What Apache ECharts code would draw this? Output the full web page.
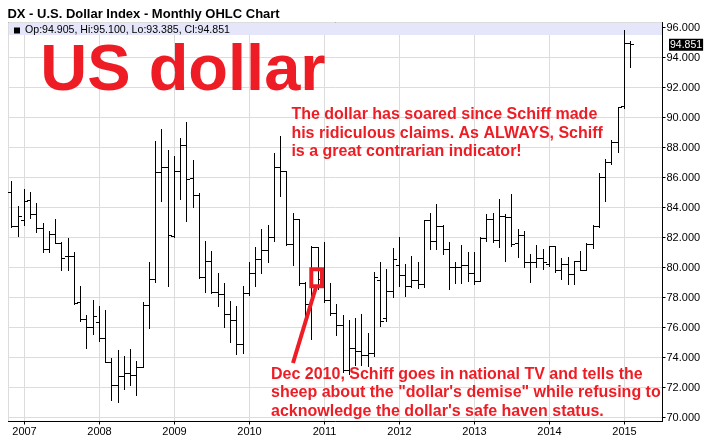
<!DOCTYPE html>
<html><head><meta charset="utf-8">
<script src="https://cdn.jsdelivr.net/npm/echarts@6/dist/echarts.min.js"></script>
<style>html,body{margin:0;padding:0;background:#fff;}#c{width:709px;height:445px;}</style>
</head><body><div id="c"></div>
<script>
const MONTHS = [
'2006-11','2006-12',
'2007-01','2007-02','2007-03','2007-04','2007-05','2007-06','2007-07','2007-08','2007-09','2007-10','2007-11','2007-12',
'2008-01','2008-02','2008-03','2008-04','2008-05','2008-06','2008-07','2008-08','2008-09','2008-10','2008-11','2008-12',
'2009-01','2009-02','2009-03','2009-04','2009-05','2009-06','2009-07','2009-08','2009-09','2009-10','2009-11','2009-12',
'2010-01','2010-02','2010-03','2010-04','2010-05','2010-06','2010-07','2010-08','2010-09','2010-10','2010-11','2010-12',
'2011-01','2011-02','2011-03','2011-04','2011-05','2011-06','2011-07','2011-08','2011-09','2011-10','2011-11','2011-12',
'2012-01','2012-02','2012-03','2012-04','2012-05','2012-06','2012-07','2012-08','2012-09','2012-10','2012-11','2012-12',
'2013-01','2013-02','2013-03','2013-04','2013-05','2013-06','2013-07','2013-08','2013-09','2013-10','2013-11','2013-12',
'2014-01','2014-02','2014-03','2014-04','2014-05','2014-06','2014-07','2014-08','2014-09','2014-10','2014-11','2014-12',
'2015-01','2015-02'];
const OPEN = [
84.99,82.73,
83.15,84.44,83.51,82.62,81.23,82.22,81.62,80.72,80.76,77.68,76.50,75.98,
76.31,75.25,73.67,72.15,72.70,72.92,72.77,73.34,77.44,79.17,86.32,86.65,
82.07,86.40,88.14,85.94,84.77,79.30,80.38,78.35,78.17,76.84,76.47,74.87,
78.28,79.61,80.50,81.16,82.00,86.65,86.39,81.56,83.22,78.94,77.50,81.30,
79.20,77.79,76.90,76.13,73.10,74.60,74.40,74.10,74.25,79.10,76.58,78.42,
80.12,79.45,78.75,79.10,78.86,83.15,81.71,82.73,81.23,80.01,79.97,80.16,
79.61,79.08,81.96,83.17,81.78,83.37,83.33,81.60,82.11,80.30,80.30,80.60,
80.20,81.40,79.80,80.20,79.50,80.40,79.80,81.50,82.70,86.00,87.00,88.30,
90.70,94.905];
const HIGH = [
85.77,84.11,
85.21,85.04,84.31,82.98,82.45,83.22,81.70,81.96,81.05,78.79,76.80,77.84,
77.44,77.17,73.98,74.47,74.07,74.58,73.74,77.68,80.38,88.43,89.20,87.80,
87.40,88.65,89.69,87.14,84.99,81.78,81.12,79.63,78.97,77.79,77.46,78.79,
80.34,81.34,82.56,82.82,87.61,88.76,86.43,83.62,83.22,79.00,81.45,81.38,
81.67,78.94,77.57,76.80,76.50,76.60,76.90,75.60,79.70,80.34,79.90,81.29,
82.05,80.23,80.74,80.34,83.18,83.66,84.26,82.84,81.67,80.38,81.49,81.01,
81.05,82.05,83.55,83.60,84.55,83.55,84.88,82.56,82.40,80.90,81.50,81.20,
81.40,81.40,80.60,80.70,80.40,81.10,81.60,82.80,86.30,87.20,88.50,90.70,
95.80,95.10];
const LOW = [
82.67,82.11,
82.85,83.27,82.34,81.01,81.01,81.62,79.83,79.83,77.57,76.42,74.63,75.58,
75.07,73.67,71.19,71.04,71.90,72.17,71.50,73.34,75.95,79.01,84.40,78.79,
82.00,84.55,83.07,84.00,79.30,78.35,78.30,77.46,76.02,75.03,74.21,74.32,
78.19,78.79,79.61,80.34,81.78,84.77,81.49,80.16,78.83,76.35,75.23,78.57,
77.68,76.80,75.47,73.00,72.90,73.50,73.50,73.40,74.10,76.10,76.40,78.02,
78.79,78.13,78.68,78.64,78.68,81.23,81.20,80.90,78.57,78.95,78.95,79.12,
78.90,79.08,81.74,81.67,81.34,80.45,81.45,80.67,80.00,79.00,80.00,79.90,
80.10,79.70,79.20,78.90,78.90,79.80,79.80,81.30,82.70,84.40,86.90,87.70,
90.65,93.385];
const CLOSE = [
82.73,83.38,
84.37,83.51,82.62,81.23,82.22,81.62,80.63,80.76,77.57,76.50,75.98,76.73,
75.25,73.67,72.15,72.70,72.92,72.77,73.34,77.44,79.17,86.32,86.65,82.11,
86.40,88.14,85.85,84.77,79.30,80.38,78.35,78.17,76.84,76.47,74.87,78.28,
79.61,80.50,81.16,82.00,86.65,86.39,81.56,83.22,78.94,77.50,81.30,79.20,
77.79,76.90,76.13,73.10,74.60,74.40,74.10,74.25,79.30,76.40,78.42,80.52,
79.45,78.75,79.10,78.86,83.15,81.71,82.73,81.23,80.01,79.97,80.16,79.61,
79.08,81.96,83.17,81.78,83.37,83.33,81.56,82.11,80.30,80.30,80.60,80.30,
81.40,79.80,80.20,79.50,80.40,79.80,81.50,82.70,86.00,87.00,88.30,90.65,
94.90,94.851];

const TITLE = 'DX - U.S. Dollar Index - Monthly OHLC Chart';
const BIG_LABEL = 'US dollar';
const NOTE_TOP = ['The dollar has soared since Schiff made', 'his ridiculous claims. As ALWAYS, Schiff', 'is a great contrarian indicator!'];
const NOTE_BOTTOM = ['Dec 2010, Schiff goes in national TV and tells the', 'sheep about the "dollar\'s demise" while refusing to', 'acknowledge the dollar\'s safe haven status.'];
const X_MIN = 2006.7867, X_MAX = 2015.5067;
const Y_MIN = 69.7333, Y_MAX = 96.3333;

const FONT = '"Liberation Sans", Arial, Helvetica, sans-serif';
const RED = '#ee1d25';
const GRID_COLOR = '#dcdcdc';

function monthToYear(s) {
  const p = s.split('-');
  return Number(p[0]) + (Number(p[1]) - 1) / 12;
}
const last = CLOSE.length - 1;
const f3 = v => v.toFixed(3);
const headerText = 'Op:' + f3(OPEN[last]) + ', Hi:' + f3(HIGH[last]) + ', Lo:' + f3(LOW[last]) + ', Cl:' + f3(CLOSE[last]);
const data = MONTHS.map((m, i) => [monthToYear(m), OPEN[i], HIGH[i], LOW[i], CLOSE[i]]);
const isInt = v => Math.abs(v - Math.round(v)) < 1e-6;

const chart = echarts.init(document.getElementById('c'), null, {renderer: 'canvas'});

function snap(v) { return Math.round(v - 0.5) + 0.5; }

const textLines = (lines, x, y0, dy, size, idp) => lines.map((t, i) => ({
  type: 'text', id: idp + i, z: 20, silent: true, x: x, y: y0 + i * dy,
  style: {text: t, fill: RED, font: 'bold ' + size + 'px ' + FONT, textAlign: 'left', textVerticalAlign: 'middle', verticalAlign: 'middle'}
}));

chart.setOption({
  animation: false,
  backgroundColor: '#fff',
  grid: {left: 8.5, right: 46.5, top: 22.5, bottom: 23.5, show: true, borderColor: '#000', borderWidth: 1, backgroundColor: 'transparent', containLabel: false},
  xAxis: {
    type: 'value', min: X_MIN, max: X_MAX, splitNumber: 9, minInterval: 1, maxInterval: 1,
    axisLine: {show: true, lineStyle: {color: '#000', width: 1}},
    axisTick: {show: true, length: 3, lineStyle: {color: '#000'}},
    axisLabel: {show: true, color: '#000', fontSize: 11, fontFamily: FONT, margin: 5, showMinLabel: false, showMaxLabel: false,
      formatter: v => isInt(v) ? String(Math.round(v)) : ''},
    splitLine: {show: true, lineStyle: {color: GRID_COLOR, width: 1}}
  },
  yAxis: {
    type: 'value', position: 'right', min: Y_MIN, max: Y_MAX, splitNumber: 13, minInterval: 2, maxInterval: 2, scale: true,
    axisLine: {show: true, lineStyle: {color: '#000', width: 1}},
    axisTick: {show: true, length: 3, lineStyle: {color: '#000'}},
    axisLabel: {show: true, color: '#000', fontSize: 11, fontFamily: FONT, margin: 4, showMinLabel: false, showMaxLabel: false,
      formatter: v => (isInt(v) && Math.round(v) % 2 === 0) ? Math.round(v).toFixed(3) : ''},
    splitLine: {show: true, lineStyle: {color: GRID_COLOR, width: 1}}
  },
  series: [{
    type: 'custom',
    data: data,
    encode: {x: 0, y: [1, 2, 3, 4]},
    z: 5,
    renderItem: function (params, api) {
      const t = api.value(0);
      const pO = api.coord([t, api.value(1)]);
      const pH = api.coord([t, api.value(2)]);
      const pL = api.coord([t, api.value(3)]);
      const pC = api.coord([t, api.value(4)]);
      const x = snap(pH[0]);
      const st = {stroke: '#000', lineWidth: 1, fill: null};
      const yo = snap(pO[1]), yc = snap(pC[1]);
      return {type: 'group', children: [
        {type: 'line', shape: {x1: x, y1: Math.round(pH[1]), x2: x, y2: Math.round(pL[1]) + 1}, style: st},
        {type: 'line', shape: {x1: x - 3.5, y1: yo, x2: x, y2: yo}, style: st},
        {type: 'line', shape: {x1: x, y1: yc, x2: x + 3.5, y2: yc}, style: st}
      ]};
    }
  }],
  graphic: [
    {type: 'rect', id: 'band', z: 1, silent: true, shape: {x: 9, y: 23, width: 653, height: 12}, style: {fill: '#e6e6fa'}},
    {type: 'rect', id: 'sq', z: 3, silent: true, shape: {x: 14, y: 27.5, width: 6, height: 6}, style: {fill: '#000'}},
    {type: 'text', id: 'hdr', z: 3, silent: true, x: 25, y: 30.5, style: {text: headerText, fill: '#000', font: '10.6px ' + FONT, textVerticalAlign: 'middle', verticalAlign: 'middle'}},
    {type: 'text', id: 'title', z: 3, silent: true, x: 7.4, y: 14.8, style: {text: TITLE, fill: '#000', font: 'bold 13px ' + FONT, textVerticalAlign: 'middle', verticalAlign: 'middle'}},
    {type: 'text', id: 'big', z: 20, silent: true, x: 40.3, y: 72.5, style: {text: BIG_LABEL, fill: RED, font: 'bold 65px ' + FONT, textVerticalAlign: 'middle', verticalAlign: 'middle'}},
    ...textLines(NOTE_TOP, 291.4, 114.5, 18.65, 16, 'nt'),
    ...textLines(NOTE_BOTTOM, 271, 374.5, 18.35, 16, 'nb'),
    {type: 'rect', id: 'box', z: 20, silent: true, shape: {x: 311.3, y: 269.3, width: 10.7, height: 17}, style: {fill: null, stroke: RED, lineWidth: 4}},
    {type: 'line', id: 'arrow', z: 20, silent: true, shape: {x1: 293, y1: 363, x2: 316, y2: 287}, style: {stroke: RED, lineWidth: 4}}
  ]
});

// last-close tag on the value axis, placed through the chart's own scales
const tagPos = chart.convertToPixel({xAxisIndex: 0, yAxisIndex: 0}, [X_MAX, CLOSE[last]]);
chart.setOption({
  graphic: [{
    type: 'text', id: 'lastTag', z: 30, silent: true, x: tagPos[0] + 6.5, y: tagPos[1],
    style: {text: f3(CLOSE[last]), fill: '#fff', backgroundColor: '#000', padding: [1, 1, 0, 1],
      font: '10.5px ' + FONT, textVerticalAlign: 'middle', verticalAlign: 'middle'}
  }]
});
</script></body></html>
